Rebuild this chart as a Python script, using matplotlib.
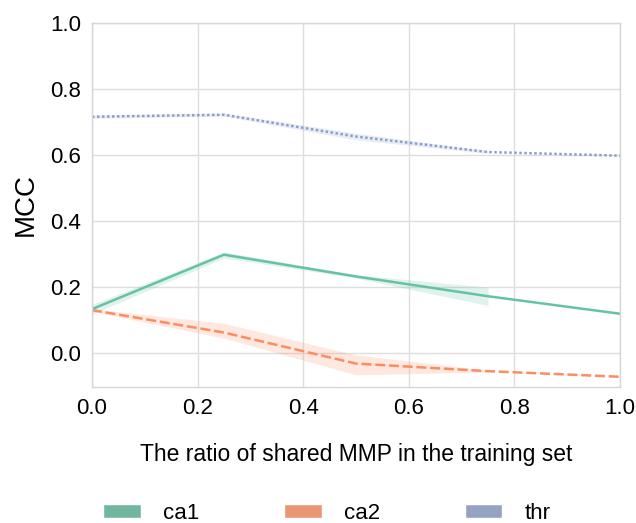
import matplotlib
matplotlib.use("Agg")
import matplotlib.pyplot as plt
from matplotlib.patches import Patch
import numpy as np
import seaborn as sns

# Anteil geteilter MMP im Trainingsset
ratio = [0.0, 0.25, 0.5, 0.75, 1.0]

# Mittelwerte und Konfidenzband, nan = kein Band
ca1_mean = [0.133, 0.298, 0.232, 0.172, 0.119]
ca1_low = [0.118, 0.288, 0.227, 0.144, np.nan]
ca1_high = [0.147, 0.306, 0.237, 0.199, np.nan]

ca2_mean = [0.130, 0.062, -0.032, -0.055, -0.072]
ca2_low = [0.126, 0.045, -0.066, -0.058, np.nan]
ca2_high = [0.134, 0.090, -0.006, -0.052, np.nan]

thr_mean = [0.716, 0.722, 0.656, 0.609, 0.598]
thr_low = [0.711, 0.718, 0.646, 0.605, np.nan]
thr_high = [0.721, 0.727, 0.666, 0.613, np.nan]

labels = ["ca1", "ca2", "thr"]

sns.set_style("whitegrid", {"grid.color": "#dedede", "axes.edgecolor": "#d6d6d6"})
plt.rcParams['font.family'] = ['Liberation Sans', 'DejaVu Sans']
plt.rcParams['text.color'] = 'black'
plt.rcParams['axes.labelcolor'] = 'black'
plt.rcParams['xtick.color'] = 'black'
plt.rcParams['ytick.color'] = 'black'

colors = sns.color_palette("Set2", 3)
dashes = ["", (4, 1.5), (1, 1)]

fig = plt.figure(figsize=(6.36, 5.23), dpi=100)
ax = fig.add_axes([92 / 636, 1 - 387 / 523, 528 / 636, 364 / 523])

series = [(ca1_mean, ca1_low, ca1_high), (ca2_mean, ca2_low, ca2_high), (thr_mean, thr_low, thr_high)]
for (m, lo, hi), c, d, lab in zip(series, colors, dashes, labels):
    line, = ax.plot(ratio, m, color=c, lw=1.8, label=lab)
    if d:
        line.set_dashes(d)
    ax.fill_between(ratio, lo, hi, color=c, alpha=0.2, linewidth=0)

ax.set_xlim(0, 1)
ax.set_ylim(-0.103, 1.0)
ax.set_xticks([0.0, 0.2, 0.4, 0.6, 0.8, 1.0])
ax.set_yticks([0.0, 0.2, 0.4, 0.6, 0.8, 1.0])
ax.tick_params(axis='both', labelsize=16, length=0, pad=8)
ax.grid(True, lw=1)
for s in ax.spines.values():
    s.set_linewidth(1)
ax.set_xlabel("The ratio of shared MMP in the training set", fontsize=16.5, labelpad=17)
ax.set_ylabel("MCC", fontsize=20, labelpad=8)

# Legende unterhalb als Rechtecke
handles = [Patch(facecolor=sns.desaturate(c, 0.75), label=lab) for c, lab in zip(colors, labels)]
fig.legend(handles=handles, loc='lower center', bbox_to_anchor=(0.514, -0.04), ncol=3,
           frameon=False, fontsize=16, handlelength=1.7, handleheight=0.6,
           handletextpad=1.0, columnspacing=3.8)

fig.savefig("out.png", dpi=100)
